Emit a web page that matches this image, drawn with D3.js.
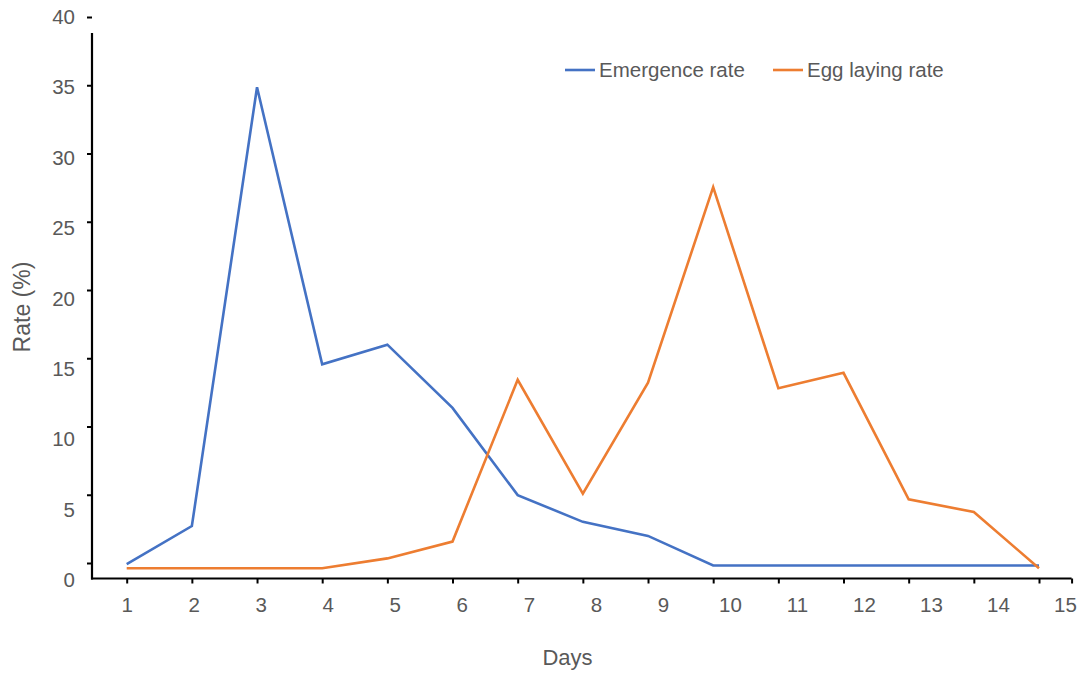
<!DOCTYPE html>
<html>
<head>
<meta charset="utf-8">
<script src="https://cdn.jsdelivr.net/npm/d3@7"></script>
<style>
  body { margin: 0; background: #fff; }
  svg { display: block; }
  text { font-family: "Liberation Sans", Arial, sans-serif; fill: #595959; }
</style>
</head>
<body>
<svg id="chart" width="1077" height="674"></svg>
<script>
const days = [1,2,3,4,5,6,7,8,9,10,11,12,13,14,15];
const emergenceRate = [1.1, 3.8, 35.0, 15.3, 16.7, 12.2, 6.0, 4.1, 3.1, 1.0, 1.0, 1.0, 1.0, 1.0, 1.0];
const eggLayingRate = [0.8, 0.8, 0.8, 0.8, 1.5, 2.7, 14.2, 6.1, 14.0, 27.9, 13.6, 14.7, 5.7, 4.8, 0.8];
const yTickValues = [0, 5, 10, 15, 20, 25, 30, 35, 40];
const seriesNames = ["Emergence rate", "Egg laying rate"];
const seriesColors = ["#4472C4", "#ED7D31"];

const svg = d3.select("#chart");

// scales
const x = d3.scaleLinear().domain([1, 15]).range([126.7, 1039]);
const xLab = d3.scaleLinear().domain([1, 15]).range([126.7, 1065]);
const y = d3.scaleLinear().domain([0, 40]).range([579.5, 17]);
const yTickPos = d3.scaleLinear().domain([0, 40]).range([563, 17]);
const yLab = d3.scaleLinear().domain([0, 40]).range([580, 17]);

// axis lines
svg.append("line").attr("x1", 92).attr("x2", 92).attr("y1", 33).attr("y2", 579.5)
  .attr("stroke", "#000").attr("stroke-width", 2.2);
svg.append("line").attr("x1", 91).attr("x2", x(15.5)).attr("y1", 578.5).attr("y2", 578.5)
  .attr("stroke", "#000").attr("stroke-width", 2.2);

// y tick marks
const yTicksG = svg.append("g").attr("transform", "translate(92,0)")
  .call(d3.axisLeft(yTickPos).tickValues(yTickValues).tickSize(5).tickFormat(""));
yTicksG.select(".domain").remove();
yTicksG.selectAll("line").attr("stroke", "#000").attr("stroke-width", 2);

// y labels
const yLabG = svg.append("g").attr("transform", "translate(75,0)")
  .call(d3.axisLeft(yLab).tickValues(yTickValues).tickSize(0).tickPadding(0));
yLabG.select(".domain").remove();
yLabG.selectAll("text").style("font-size", "20.5px").style("fill", "#595959")
  .style("font-family", "'Liberation Sans', Arial, sans-serif");

// x tick marks
const xTicksG = svg.append("g").attr("transform", "translate(0,578.5)")
  .call(d3.axisBottom(x).tickValues(days.concat([15.5])).tickSize(5).tickFormat(""));
xTicksG.select(".domain").remove();
xTicksG.selectAll("line").attr("stroke", "#000").attr("stroke-width", 2);

// x labels
const xLabG = svg.append("g").attr("transform", "translate(0,597.5)")
  .call(d3.axisBottom(xLab).tickValues(days).tickSize(0).tickPadding(0).tickFormat(d3.format("d")));
xLabG.select(".domain").remove();
xLabG.selectAll("text").style("font-size", "20.5px").style("fill", "#595959")
  .style("font-family", "'Liberation Sans', Arial, sans-serif");

// lines
const line = d3.line().x((d, i) => x(days[i])).y(d => y(d));
[emergenceRate, eggLayingRate].forEach((s, k) => {
  svg.append("path").datum(s).attr("d", line)
    .attr("fill", "none").attr("stroke", seriesColors[k])
    .attr("stroke-width", 2.6).attr("stroke-linejoin", "miter");
});

// legend
const legendPos = [{lx: 565, tx: 599}, {lx: 773, tx: 807}];
seriesNames.forEach((name, k) => {
  svg.append("line").attr("x1", legendPos[k].lx).attr("x2", legendPos[k].lx + 30)
    .attr("y1", 70).attr("y2", 70).attr("stroke", seriesColors[k]).attr("stroke-width", 2.6);
  svg.append("text").attr("x", legendPos[k].tx).attr("y", 77)
    .style("font-size", "20.5px").text(name);
});

// axis titles
svg.append("text").attr("x", 567.5).attr("y", 665).attr("text-anchor", "middle")
  .style("font-size", "22px").text("Days");
svg.append("text").attr("transform", "translate(30,307) rotate(-90)").attr("text-anchor", "middle")
  .style("font-size", "23px").text("Rate (%)");
</script>
</body>
</html>
